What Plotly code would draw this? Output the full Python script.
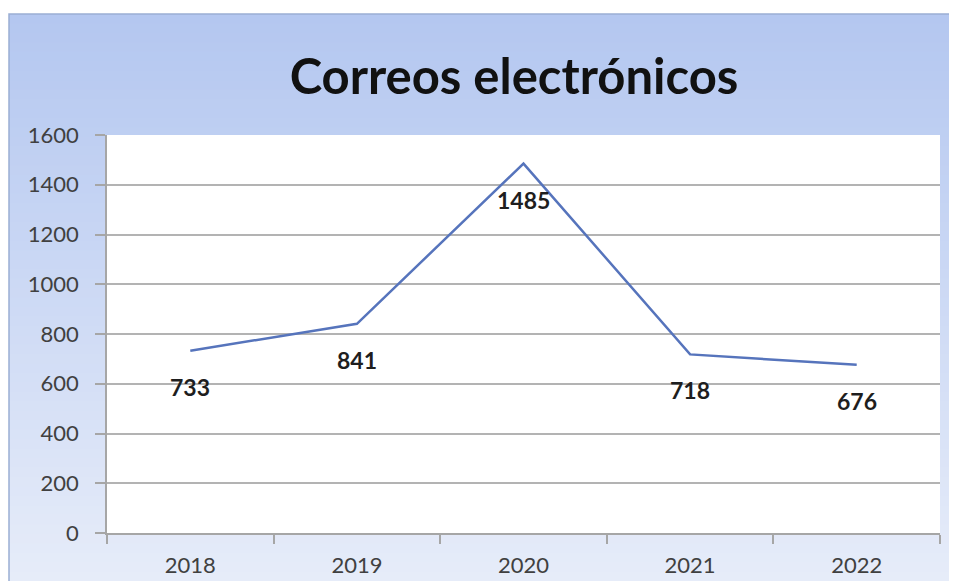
import plotly.graph_objects as go

years = ["2018", "2019", "2020", "2021", "2022"]
emails = [733, 841, 1485, 718, 676]
title_text = "Correos electrónicos"
y_ticks = [0, 200, 400, 600, 800, 1000, 1200, 1400, 1600]

# the page places the figure at an 8px offset, so the figure covers the rest of the window
W, H = 949, 573
ML, MR, MT, MB = 99, 17, 127, 48
pw, ph = W - ML - MR, H - MT - MB

def px2x(px):
    return (px - ML) / pw

def px2y(py):
    return (H - MB - py) / ph

fig = go.Figure()
fig.add_trace(go.Scatter(
    x=years, y=emails, mode="lines",
    line=dict(color="#5674bc", width=2.5),
    showlegend=False, hoverinfo="x+y",
))

annotations = [
    dict(x=i, y=v, xref="x", yref="y", text=str(v), showarrow=False,
         yshift=-36, xanchor="center", yanchor="middle",
         font=dict(family="Lato", size=23, color="#1e1e1e", weight="bold"))
    for i, v in enumerate(emails)
]

# gradient background strips (outer chart area)
shapes = []
top_c = (180, 199, 240)
bot_c = (230, 236, 249)
y_top, y_bot = 6, H
n = 60
for i in range(n):
    t = i / (n - 1)
    c = tuple(int(round(top_c[k] + (bot_c[k] - top_c[k]) * t)) for k in range(3))
    ya = y_top + (y_bot - y_top) * i / n
    yb = y_top + (y_bot - y_top) * (i + 1) / n + 1
    shapes.append(dict(type="rect", xref="paper", yref="paper", layer="below",
                       x0=px2x(1), x1=px2x(W), y0=px2y(yb), y1=px2y(ya),
                       fillcolor="rgb(%d,%d,%d)" % c, line=dict(width=0)))
shapes.append(dict(type="rect", xref="paper", yref="paper", layer="below",
                   x0=px2x(1), x1=px2x(W + 5), y0=px2y(H + 5), y1=px2y(6),
                   fillcolor="rgba(0,0,0,0)", line=dict(color="#9aaed3", width=1.5)))
shapes.append(dict(type="rect", xref="paper", yref="paper", layer="below",
                   x0=0, x1=1, y0=0, y1=1, fillcolor="white", line=dict(width=0)))

fig.update_layout(
    width=W, height=H,
    margin=dict(l=ML, r=MR, t=MT, b=MB, autoexpand=False),
    paper_bgcolor="white", plot_bgcolor="white",
    shapes=shapes, annotations=annotations,
    title=dict(text=title_text, x=506 / W, xanchor="center", y=1 - 69 / H, yanchor="middle",
               font=dict(family="Lato", size=49, color="#111111", weight="bold")),
    font=dict(family="Lato", color="#404040"),
)
fig.update_xaxes(
    type="category", categoryorder="array", categoryarray=years,
    range=[-0.5, len(years) - 0.5], autorange=False, tickangle=0, automargin=False,
    showgrid=False, showline=True, linecolor="#a6a6a6", linewidth=1.5,
    ticks="outside", tickson="boundaries", ticklen=9, tickcolor="#a6a6a6", tickwidth=1.5,
    tickfont=dict(family="Lato", size=22, color="#404040"), ticklabelstandoff=12,
)
fig.update_yaxes(
    range=[0, 1600], tickvals=y_ticks, showgrid=True, gridcolor="#b3b3b3", gridwidth=1.5,
    showline=True, linecolor="#a6a6a6", linewidth=1.5, zeroline=False, automargin=False,
    ticks="outside", ticklen=10, tickcolor="#a6a6a6", tickwidth=1.5,
    tickfont=dict(family="Lato", size=22, color="#404040"), ticklabelstandoff=12,
)
fig.write_html("out.html")
